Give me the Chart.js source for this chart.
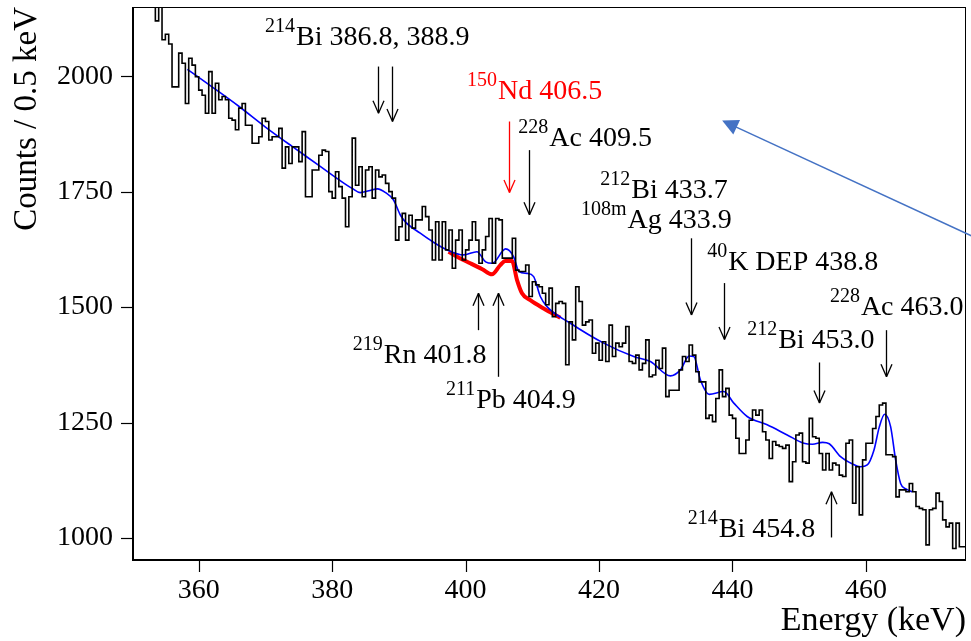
<!DOCTYPE html>
<html>
<head>
<meta charset="utf-8">
<script src="https://cdn.jsdelivr.net/npm/chart.js@4.4.1/dist/chart.umd.min.js"></script>
<style>
  html, body { margin: 0; padding: 0; background: #fff; }
  #wrap { width: 971px; height: 641px; }
</style>
</head>
<body>
<div id="wrap"><canvas id="grafica" width="971" height="641"></canvas></div>
<script>
// Histograma: bins de 0.5 keV desde 350 keV
const binStart = 350;
const binWidth = 0.5;
const counts = [
  2230, 2260, 2210, 2240, 2190, 2220, 2180, 2200, 2120, 2170,
  2079, 2091, 2070, 1977, 1977, 2050, 2028, 1941, 2039, 2024,
  1999, 1970, 1959, 1920, 2010, 1920, 1985, 1949, 1956, 1949,
  1909, 1905, 1884, 1931, 1941, 1894, 1894, 1855, 1855, 1869,
  1909, 1902, 1862, 1869, 1869, 1887, 1801, 1847, 1811, 1847,
  1847, 1815, 1880, 1739, 1739, 1797, 1797, 1829, 1840, 1837,
  1750, 1736, 1793, 1761, 1736, 1674, 1739, 1866, 1764, 1804,
  1739, 1797, 1804, 1736, 1797, 1782, 1786, 1768, 1750, 1736,
  1645, 1674, 1703, 1645, 1699, 1671, 1689, 1689, 1718, 1696,
  1667, 1602, 1685, 1602, 1685, 1624, 1667, 1584, 1645, 1667,
  1602, 1624, 1645, 1685, 1645, 1595, 1624, 1653, 1692, 1595,
  1692, 1689, 1606, 1606, 1606, 1649, 1580, 1577, 1577, 1591,
  1523, 1555, 1548, 1544, 1530, 1505, 1541, 1479, 1508, 1512,
  1508, 1375, 1468, 1429, 1544, 1512, 1461, 1468, 1472, 1400,
  1422, 1385, 1425, 1382, 1461, 1393, 1422, 1414, 1422, 1458,
  1382, 1378, 1396, 1364, 1378, 1429, 1349, 1353, 1385, 1367,
  1411, 1306, 1320, 1320, 1320, 1364, 1393, 1382, 1418, 1396,
  1360, 1338, 1338, 1259, 1266, 1252, 1302, 1364, 1306, 1324,
  1266, 1259, 1216, 1183, 1183, 1212, 1255, 1277, 1266, 1277,
  1230, 1212, 1172, 1209, 1201, 1198, 1194, 1201, 1122, 1165,
  1223, 1227, 1165, 1162, 1259, 1219, 1216, 1183, 1147, 1183,
  1147, 1162, 1158, 1136, 1133, 1205, 1212, 1075, 1154, 1050,
  1169, 1205, 1205, 1237, 1263, 1288, 1292, 1180, 1180, 1176,
  1089, 1104, 1104, 1100, 1118, 1100, 1068, 1064, 1061, 985,
  1061, 1064, 1097, 1079, 1039, 1024, 1032, 977, 1032, 981
];

// Ajuste total (azul)
const fitE = [358.3, 362, 366, 370, 374, 378, 381, 383, 384.2, 385.5, 386.8, 388, 389.2, 390.2, 391,
  393.2, 395, 397.2, 399.7, 401.7, 403, 404, 406, 407.2, 408, 409.2, 410.2, 411.2, 412.2, 415.7,
  420.7, 425.2, 427.7, 430.7, 432.2, 433.5, 434.2, 435.2, 436.5, 438.7, 440.2, 442.2, 445.2, 448.2,
  450.7, 452, 453.5, 454.5, 456.2, 458, 459.2, 460.2, 461.2, 462, 462.8, 463.7, 464.45, 465.2, 466, 466.95];
const fitC = [2015, 1977, 1935, 1890, 1848, 1807, 1776, 1757, 1748, 1752, 1756, 1748, 1732, 1700, 1684,
  1660, 1642, 1624, 1613, 1620, 1598, 1595, 1626, 1609, 1577, 1573, 1566, 1523, 1501, 1465,
  1422, 1393, 1382, 1351, 1364, 1394, 1393, 1342, 1311, 1317, 1292, 1263, 1245, 1223,
  1205, 1203, 1207, 1204, 1176, 1160, 1154, 1158, 1190, 1240, 1268, 1241, 1169, 1118, 1106, 1100];

// Ajuste con 150Nd (rojo)
const ndE = [397.45, 399, 400.7, 402.5, 403.95, 405.2, 405.95, 406.95, 407.7, 408.45, 409.7, 411.7, 414.2];
const ndC = [1620, 1607, 1595, 1582, 1571, 1591, 1600, 1600, 1559, 1530, 1515, 1497, 1477];

const xTickLabels = [360, 380, 400, 420, 440, 460];
const yTickLabels = [1000, 1250, 1500, 1750, 2000];

// Flechas: energia, cuentas de la cola y de la punta
const arrows = [
  { e: 386.8, from: 2021, to: 1920, color: '#000' },
  { e: 388.9, from: 2021, to: 1902, color: '#000' },
  { e: 406.5, from: 1902, to: 1748, color: '#ff0000' },
  { e: 409.5, from: 1840, to: 1700, color: '#000' },
  { e: 433.8, from: 1649, to: 1483, color: '#000' },
  { e: 438.8, from: 1552, to: 1430, color: '#000' },
  { e: 453.0, from: 1380, to: 1292, color: '#000' },
  { e: 463.0, from: 1450, to: 1349, color: '#000' },
  { e: 401.8, from: 1450, to: 1530, color: '#000' },
  { e: 404.9, from: 1349, to: 1530, color: '#000' },
  { e: 454.8, from: 1001, to: 1100, color: '#000' }
];

// Etiquetas: superindice, texto, posicion (keV, cuentas de la linea base)
const labels = [
  { sup: '214', text: 'Bi 386.8, 388.9', e: 369.95, c: 2068, color: '#000' },
  { sup: '150', text: 'Nd 406.5', e: 400.2, c: 1950, color: '#ff0000' },
  { sup: '228', text: 'Ac 409.5', e: 407.9, c: 1849, color: '#000' },
  { sup: '212', text: 'Bi 433.7', e: 420.2, c: 1737, color: '#000' },
  { sup: '108m', text: 'Ag 433.9', e: 417.3, c: 1671, color: '#000' },
  { sup: '40', text: 'K DEP 438.8', e: 436.2, c: 1580, color: '#000' },
  { sup: '228', text: 'Ac 463.0', e: 454.6, c: 1483, color: '#000' },
  { sup: '212', text: 'Bi 453.0', e: 442.2, c: 1411, color: '#000' },
  { sup: '219', text: 'Rn 401.8', e: 383.1, c: 1378, color: '#000' },
  { sup: '211', text: 'Pb 404.9', e: 397.05, c: 1281, color: '#000' },
  { sup: '214', text: 'Bi 454.8', e: 433.3, c: 1001, color: '#000' }
];

// Flecha azul superpuesta
const blueArrow = { fromE: 475.85, fromC: 1654, toE: 438.45, toC: 1904 };

const SERIF = '"Liberation Serif", "Times New Roman", serif';

const histData = counts.map((c, i) => ({ x: binStart + i * binWidth, y: c }));
histData.push({ x: binStart + counts.length * binWidth, y: counts[counts.length - 1] });
const fitData = fitE.map((e, i) => ({ x: e, y: fitC[i] }));
const ndData = ndE.map((e, i) => ({ x: e, y: ndC[i] }));

function line(ctx, x1, y1, x2, y2) {
  ctx.beginPath();
  ctx.moveTo(x1, y1);
  ctx.lineTo(x2, y2);
  ctx.stroke();
}

const decor = {
  id: 'decor',
  afterDraw(chart) {
    const { ctx, chartArea: a, scales: { x, y } } = chart;
    ctx.save();

    // marco
    ctx.strokeStyle = '#000';
    ctx.lineWidth = 1;
    line(ctx, a.left, a.top + 0.5, a.right, a.top + 0.5);
    line(ctx, a.right - 0.5, a.top, a.right - 0.5, a.bottom);
    ctx.lineWidth = 2;
    line(ctx, a.left + 1, a.top, a.left + 1, a.bottom);
    line(ctx, a.left, a.bottom - 1, a.right, a.bottom - 1);

    // marcas de los ejes
    ctx.lineWidth = 1.2;
    x.ticks.forEach(t => {
      const px = Math.round(x.getPixelForValue(t.value)) + 0.5;
      const len = xTickLabels.includes(t.value) ? 11 : 5;
      line(ctx, px, a.bottom, px, a.bottom + len);
    });
    y.ticks.forEach(t => {
      const py = Math.round(y.getPixelForValue(t.value)) + 0.5;
      const len = yTickLabels.includes(t.value) ? 11 : 5;
      line(ctx, a.left, py, a.left - len, py);
    });

    // flechas
    arrows.forEach(ar => {
      const px = Math.round(x.getPixelForValue(ar.e)) + 0.5;
      const y1 = y.getPixelForValue(ar.from);
      const y2 = y.getPixelForValue(ar.to);
      const dir = y2 > y1 ? 1 : -1;
      ctx.strokeStyle = ar.color;
      ctx.lineWidth = 1.3;
      line(ctx, px, y1, px, y2);
      line(ctx, px - 5.5, y2 - dir * 12.5, px, y2);
      line(ctx, px + 5.5, y2 - dir * 12.5, px, y2);
    });

    // etiquetas
    ctx.textBaseline = 'alphabetic';
    ctx.textAlign = 'left';
    labels.forEach(l => {
      const px = x.getPixelForValue(l.e);
      const py = y.getPixelForValue(l.c);
      ctx.fillStyle = l.color;
      ctx.font = '20px ' + SERIF;
      ctx.fillText(l.sup, px, py - 13);
      const w = ctx.measureText(l.sup).width;
      ctx.font = '28px ' + SERIF;
      ctx.fillText(l.text, px + w + 1, py);
    });

    // flecha azul
    const bx1 = x.getPixelForValue(blueArrow.fromE), by1 = y.getPixelForValue(blueArrow.fromC);
    const bx2 = x.getPixelForValue(blueArrow.toE), by2 = y.getPixelForValue(blueArrow.toC);
    const ang = Math.atan2(by2 - by1, bx2 - bx1);
    ctx.strokeStyle = '#4472c4';
    ctx.fillStyle = '#4472c4';
    ctx.lineWidth = 1.5;
    line(ctx, bx1, by1, bx2 - 12 * Math.cos(ang), by2 - 12 * Math.sin(ang));
    ctx.beginPath();
    ctx.moveTo(bx2, by2);
    ctx.lineTo(bx2 - 16 * Math.cos(ang) + 8 * Math.sin(ang), by2 - 16 * Math.sin(ang) - 8 * Math.cos(ang));
    ctx.lineTo(bx2 - 16 * Math.cos(ang) - 8 * Math.sin(ang), by2 - 16 * Math.sin(ang) + 8 * Math.cos(ang));
    ctx.closePath();
    ctx.fill();

    ctx.restore();
  }
};

new Chart(document.getElementById('grafica').getContext('2d'), {
  type: 'line',
  data: {
    datasets: [
      {
        label: 'Datos',
        data: histData,
        stepped: 'after',
        borderColor: '#000',
        borderWidth: 1.6,
        pointRadius: 0,
        fill: false
      },
      {
        label: 'Ajuste',
        data: fitData,
        borderColor: '#0000ff',
        borderWidth: 1.6,
        pointRadius: 0,
        cubicInterpolationMode: 'monotone',
        fill: false
      },
      {
        label: '150Nd',
        data: ndData,
        borderColor: '#ff0000',
        borderWidth: 4,
        pointRadius: 0,
        cubicInterpolationMode: 'monotone',
        fill: false
      }
    ]
  },
  options: {
    responsive: false,
    devicePixelRatio: 1,
    animation: false,
    layout: { padding: { top: 7, right: 5, left: 0, bottom: 0 } },
    plugins: { legend: { display: false }, tooltip: { enabled: false } },
    scales: {
      x: {
        type: 'linear',
        min: 350,
        max: 475,
        grid: { display: false },
        border: { display: false },
        ticks: {
          stepSize: 5,
          autoSkip: false,
          maxRotation: 0,
          padding: 5,
          color: '#000',
          font: { family: SERIF, size: 28 },
          callback: v => xTickLabels.includes(v) ? String(v) : null
        },
        title: {
          display: true,
          text: 'Energy (keV)',
          align: 'end',
          color: '#000',
          font: { family: SERIF, size: 34 },
          padding: { top: 0, bottom: 0 }
        },
        afterFit: s => { s.height = 80; s.paddingLeft = 0; s.paddingRight = 0; }
      },
      y: {
        type: 'linear',
        min: 950,
        max: 2150,
        grid: { display: false },
        border: { display: false },
        ticks: {
          stepSize: 50,
          autoSkip: false,
          padding: 11,
          color: '#000',
          font: { family: SERIF, size: 28 },
          callback: v => yTickLabels.includes(v) ? String(v) : null
        },
        title: {
          display: true,
          text: 'Counts / 0.5 keV',
          align: 'end',
          color: '#000',
          font: { family: SERIF, size: 33 },
          padding: { top: 8, bottom: 0 }
        },
        afterFit: s => { s.width = 132; s.paddingTop = 0; s.paddingBottom = 0; }
      }
    }
  },
  plugins: [decor]
});
</script>
</body>
</html>
